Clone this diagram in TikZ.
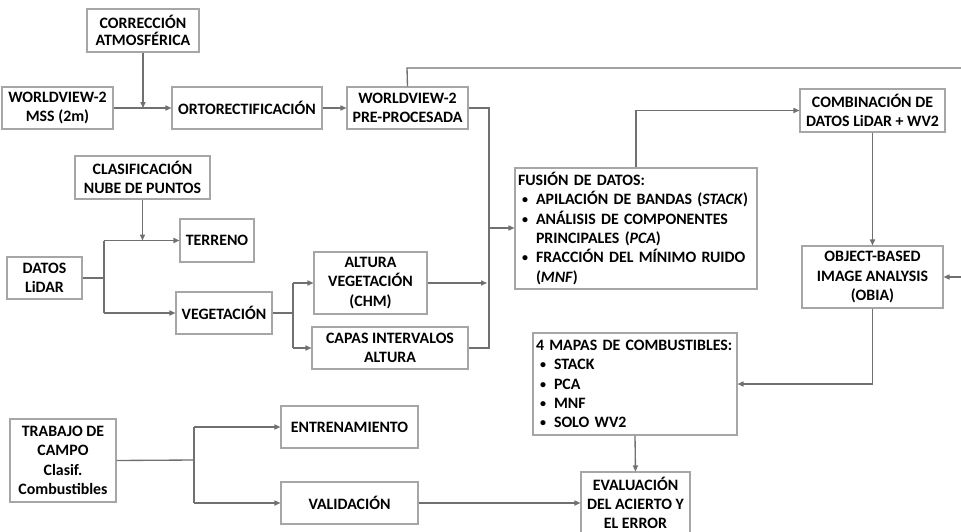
\documentclass[tikz,border=0pt]{standalone}
\usepackage{fontspec}
\setmainfont{Carlito}
\usetikzlibrary{arrows.meta}
\definecolor{boxgray}{HTML}{A6A6A6}
\definecolor{linegray}{HTML}{707070}
\newcommand{\bul}{\hspace*{3pt}\makebox[10.5pt][l]{\raisebox{0.8pt}{\fontsize{9pt}{9pt}\selectfont\textbullet}}}
\begin{document}
\begin{tikzpicture}[x=0.75pt,y=-0.75pt,
  box/.style={draw=boxgray,line width=0.8pt,fill=white,align=center,inner sep=1pt,
    font=\fontsize{11.9pt}{14.5pt}\selectfont\bfseries},
  sz/.style 2 args={minimum width=#1*0.75pt,minimum height=#2*0.75pt},
  conn/.style={draw=linegray,line width=1pt},
  arr/.style={conn,-{Triangle[length=4.5pt,width=3.8pt]}},
  lbox/.style={box,align=left,inner xsep=2.25pt,text width=#1*0.75pt-4.5pt}]
\useasboundingbox (0,0) rectangle (961,532);
\clip (0,0) rectangle (961,532);
% top row
\node[box,sz={112}{43},font=\fontsize{11.9pt}{12.8pt}\selectfont\bfseries] (corr) at (143,30.5) {CORRECCIÓN\\ATMOSFÉRICA};
\node[box,sz={111}{42}] (mss) at (57.5,108) {WORLDVIEW-2\\MSS (2m)};
\node[box,sz={150}{42}] (orto) at (247,108) {ORTORECTIFICACIÓN};
\node[box,sz={121}{42}] (pre) at (407.5,108) {WORLDVIEW-2\\PRE-PROCESADA};
\node[box,sz={145}{43}] (comb) at (872.5,110.5) {COMBINACIÓN DE\\DATOS LiDAR + WV2};
% middle
\node[lbox=242,sz={242}{121}] (fus) at (636,228.5) {FUSIÓN DE DATOS:\\
\bul APILACIÓN DE BANDAS (\textit{STACK})\\
\bul ANÁLISIS DE COMPONENTES\\
\hspace*{13.5pt}PRINCIPALES (\textit{PCA})\\
\bul FRACCIÓN DEL MÍNIMO RUIDO\\
\hspace*{13.5pt}(\textit{MNF})};
\node[box,sz={141}{62}] (obia) at (872.5,277) {OBJECT-BASED\\IMAGE ANALYSIS\\(OBIA)};
\node[lbox=204,sz={204}{102}] (mapas) at (635,384) {4 MAPAS DE COMBUSTIBLES:\\
\bul STACK\\
\bul PCA\\
\bul MNF\\
\bul SOLO WV2};
\node[box,sz={109}{62}] (eval) at (635.5,503) {EVALUACIÓN\\DEL ACIERTO Y\\EL ERROR};
% lidar
\node[box,sz={135}{43}] (clas) at (142.5,177.5) {CLASIFICACIÓN\\NUBE DE PUNTOS};
\node[box,sz={74}{43}] (terr) at (217,240.5) {TERRENO};
\node[box,sz={75}{42}] (datos) at (44.5,278) {DATOS\\LiDAR};
\node[box,sz={96}{42}] (veg) at (224,313) {VEGETACIÓN};
\node[box,sz={113}{62}] (alt) at (370.5,283) {ALTURA\\VEGETACIÓN\\(CHM)};
\node[box,sz={156}{42}] (capas) at (390,348) {CAPAS INTERVALOS\\ALTURA};
% field work
\node[box,sz={106}{83}] (trab) at (63,460.5) {TRABAJO DE\\CAMPO\\Clasif.\\Combustibles};
\node[box,sz={137}{42}] (entr) at (349.5,427) {ENTRENAMIENTO};
\node[box,sz={137}{42}] (val) at (349.5,503) {VALIDACIÓN};
% coordinates
\coordinate (j1) at (143,108);
\coordinate (topR) at (961,68);
\coordinate (obR) at (961,277);
\coordinate (bus) at (489,228);
\coordinate (lj) at (104,278);
\coordinate (vj) at (293,313);
\coordinate (tj) at (194,460);
% connectors top
\draw[arr] (mss.east) -- (orto.west);
\draw[arr] (corr.south) -- (j1);
\draw[arr] (orto.east) -- (pre.west);
\draw[conn] (pre.north) -- (407,68) -- (topR);
\draw[conn] (pre.east) -- (489,108) -- (489,348) -- (capas.east);
\draw[arr] (bus) -- (fus.west |- bus);
\draw[arr] (alt.east) -- (487,283);
\draw[arr] (fus.north) -- (636,110.5) -- (comb.west);
\draw[arr] (comb.south) -- (obia.north);
\draw[arr] (obR) -- (obia.east);
\draw[arr] (obia.south) -- (872.5,384) -- (mapas.east);
\draw[arr] (mapas.south) -- (eval.north);
% lidar
\draw[arr] (clas.south) -- (142.5,240.5);
\draw[conn] (datos.east) -- (lj);
\draw[arr] (104,240.5) -- (terr.west);
\draw[conn] (104,240.5) -- (104,313);
\draw[arr] (104,313) -- (veg.west);
\draw[conn] (veg.east) -- (vj);
\draw[arr] (293,283) -- (alt.west);
\draw[conn] (293,283) -- (293,348);
\draw[arr] (293,348) -- (capas.west);
% field
\draw[conn] (trab.east) -- (tj);
\draw[arr] (194,427) -- (entr.west);
\draw[conn] (194,427) -- (194,503);
\draw[arr] (194,503) -- (val.west);
\draw[arr] (val.east) -- (eval.west);
\end{tikzpicture}
\end{document}
